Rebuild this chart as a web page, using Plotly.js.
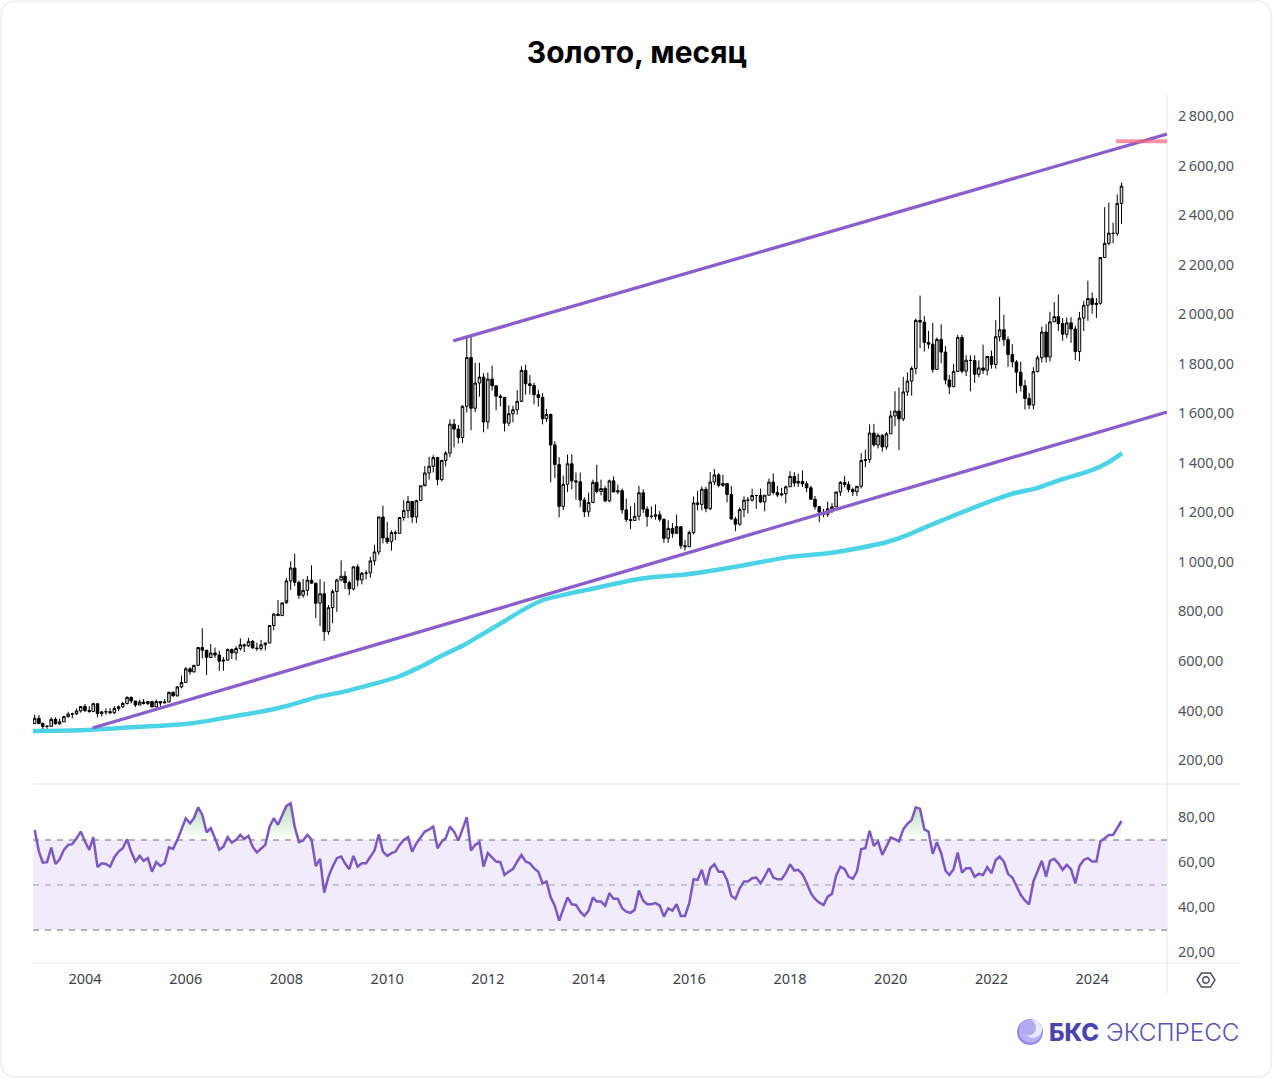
<!DOCTYPE html>
<html><head><meta charset="utf-8">
<script src="https://cdn.plot.ly/plotly-3.0.1.min.js"></script>
<style>html,body{margin:0;padding:0;background:#fff}#g{width:1273px;height:1079px}</style>
</head><body><div id="g"></div>
<script>
const W=1273,H=1079;
const opens=[347,368,347,335,336,364,346,354,375,385,386,398,
416,400,396,427,387,394,395,391,408,415,428,453,
438,422,434,428,436,414,436,430,434,473,459,495,
513,568,556,582,654,643,614,632,624,599,603,646,
632,650,665,661,679,652,650,665,672,743,789,783,
834,923,975,917,865,885,926,914,833,871,718,815,
880,927,942,916,891,980,927,954,955,1004,1040,1181,
1096,1081,1118,1115,1179,1207,1244,1181,1247,1307,1359,1386,
1421,1332,1409,1439,1556,1536,1502,1628,1825,1620,1722,1746,
1565,1738,1711,1669,1664,1560,1598,1614,1648,1773,1719,1712,
1675,1664,1578,1595,1472,1393,1224,1313,1396,1327,1323,1250,
1202,1240,1321,1284,1296,1246,1327,1282,1287,1210,1171,1167,
1184,1279,1213,1183,1184,1190,1172,1095,1135,1115,1142,1065,
1061,1118,1238,1232,1293,1215,1322,1351,1309,1316,1272,1173,
1152,1211,1249,1249,1268,1268,1242,1269,1322,1280,1270,1275,
1303,1345,1318,1325,1315,1299,1253,1223,1201,1192,1214,1222,
1282,1321,1313,1292,1283,1305,1409,1413,1520,1472,1511,1464,
1517,1589,1609,1577,1686,1730,1781,1975,1968,1886,1879,1777,
1898,1847,1734,1707,1769,1906,1770,1814,1813,1757,1783,1774,
1829,1797,1909,1937,1897,1837,1807,1766,1711,1660,1633,1768,
1824,1928,1827,1969,1990,1962,1919,1965,1940,1849,1984,2036,
2063,2039,2044,2229,2286,2327,2326,2447];
const closes=[368,347,335,336,364,346,354,375,385,386,398,416,
400,396,427,387,394,395,391,408,415,428,453,438,
422,434,428,436,414,436,430,434,473,459,495,513,
568,556,582,654,643,614,632,624,599,603,646,632,
650,665,661,679,652,650,665,672,743,789,783,834,
923,975,917,865,885,926,914,833,871,718,815,880,
927,942,916,891,980,927,954,955,1004,1040,1181,1096,
1081,1118,1115,1179,1207,1244,1181,1247,1307,1359,1386,1421,
1332,1409,1439,1556,1536,1502,1628,1825,1620,1722,1746,1565,
1738,1711,1669,1664,1560,1598,1614,1648,1773,1719,1712,1675,
1664,1578,1595,1472,1393,1224,1313,1396,1327,1323,1250,1202,
1240,1321,1284,1296,1246,1327,1282,1287,1210,1171,1167,1184,
1279,1213,1183,1184,1190,1172,1095,1135,1115,1142,1065,1061,
1118,1238,1232,1293,1215,1322,1351,1309,1316,1272,1173,1152,
1211,1249,1249,1268,1268,1242,1269,1322,1280,1270,1275,1303,
1345,1318,1325,1315,1299,1253,1223,1201,1192,1214,1222,1282,
1321,1313,1292,1283,1305,1409,1413,1520,1472,1511,1464,1517,
1589,1609,1577,1686,1730,1781,1975,1968,1886,1879,1777,1898,
1847,1734,1707,1769,1906,1770,1814,1813,1757,1783,1774,1829,
1797,1909,1937,1897,1837,1807,1766,1711,1660,1633,1768,1824,
1928,1827,1969,1990,1962,1919,1965,1940,1849,1984,2036,2063,
2039,2044,2229,2286,2327,2326,2447,2517];
const highs=[383,382,352,341,372,372,367,378,395,391,408,417,
426,417,431,428,398,408,410,418,420,434,456,456,
428,444,446,438,436,444,433,446,476,477,498,541,
575,575,584,656,732,640,668,654,641,616,650,650,
660,691,670,693,684,674,685,675,744,793,846,838,
934,1002,1033,924,931,943,986,915,930,920,826,889,
932,1006,962,924,982,990,959,966,1021,1069,1182,1227,
1162,1127,1127,1179,1249,1266,1203,1251,1307,1387,1424,1431,
1424,1413,1447,1575,1577,1553,1632,1912,1920,1804,1804,1762,
1764,1792,1696,1676,1665,1632,1630,1693,1790,1796,1754,1723,
1695,1681,1617,1599,1487,1423,1348,1433,1434,1361,1361,1261,
1280,1332,1392,1332,1306,1332,1345,1312,1296,1255,1225,1238,
1307,1293,1224,1224,1232,1205,1174,1168,1157,1191,1143,1088,
1126,1264,1287,1304,1303,1362,1375,1359,1352,1318,1306,1182,
1220,1264,1262,1295,1270,1296,1270,1337,1357,1306,1299,1308,
1366,1362,1356,1369,1326,1307,1266,1214,1214,1243,1237,1284,
1326,1346,1325,1300,1305,1439,1453,1555,1557,1519,1515,1525,
1611,1689,1704,1747,1765,1789,1982,2075,1992,1933,1965,1906,
1959,1871,1755,1799,1916,1917,1834,1834,1834,1814,1877,1832,
1853,1976,2070,1998,1910,1879,1815,1808,1735,1682,1786,1833,
1950,1960,2010,2049,2079,1984,1987,1988,1953,2009,2053,2135,
2088,2065,2222,2432,2450,2369,2484,2531];
const lows=[346,344,325,325,335,343,342,354,371,368,381,391,
393,390,393,372,376,382,385,385,397,411,424,428,
414,421,424,421,414,414,415,430,434,455,456,489,
511,544,553,581,610,543,614,612,560,560,602,607,
602,642,636,656,651,640,641,642,672,724,782,784,
846,887,902,850,855,863,911,773,741,681,706,752,
798,921,890,866,884,901,909,929,936,987,1028,1075,
1072,1045,1088,1114,1166,1177,1157,1157,1246,1316,1332,1361,
1309,1325,1385,1423,1462,1478,1480,1603,1532,1604,1667,1523,
1537,1691,1612,1628,1527,1548,1564,1594,1651,1675,1676,1636,
1626,1555,1565,1321,1339,1180,1208,1282,1293,1251,1221,1181,
1182,1237,1277,1268,1241,1241,1282,1273,1194,1161,1132,1167,
1167,1197,1142,1175,1170,1162,1077,1077,1097,1136,1052,1046,
1061,1111,1208,1208,1200,1208,1310,1301,1302,1241,1171,1124,
1146,1180,1195,1243,1214,1237,1204,1269,1271,1262,1264,1236,
1302,1303,1303,1302,1281,1250,1211,1160,1180,1182,1196,1221,
1266,1301,1281,1266,1265,1296,1382,1400,1465,1458,1445,1453,
1517,1548,1451,1568,1670,1671,1757,1863,1849,1860,1764,1776,
1802,1717,1677,1706,1768,1761,1750,1688,1722,1746,1758,1753,
1780,1780,1890,1872,1787,1785,1681,1688,1615,1617,1616,1765,
1805,1805,1809,1970,1932,1893,1903,1884,1815,1810,1932,1973,
2002,1985,2038,2229,2278,2287,2315,2364];
const rsi=[74.4,64.8,59.9,60.1,66.6,59.3,61.4,65.6,67.8,68.1,70.7,73.7,
69.3,65.6,71.2,57.9,59.6,59.3,58.1,62.3,64.8,66.3,70.3,64.8,
60.4,62.9,60.7,61.9,55.9,60.1,58.4,59.6,66.7,66,70,74.4,
79.6,77.4,79.6,84.5,81.1,73.4,75.2,70.7,65.6,67,71.2,68.8,
70,72.2,70.4,71.8,67,64.4,66.3,67.8,75.9,79.6,76.7,80.7,
85.1,86.3,75.9,69,69.7,72.2,70.3,58.4,61.6,46.6,53.7,58.1,
61.9,62.6,59.6,57,62.9,58.1,59.6,59.6,62.6,65.3,72.5,64.8,
62.9,64.1,64.7,67.8,70,71.2,64.8,68.5,71.2,73.7,74.7,75.9,
66.3,69.3,70.7,75.9,73.7,69.7,74.7,80.1,65.3,67.8,69,58.1,
64.1,62.3,60.4,60.1,54.4,55.9,57,60.4,63.3,60.4,59.6,57.4,
55.9,50.7,51.5,44.5,40.7,34.1,39.6,44.4,41.4,41.1,38.1,36.2,
38.6,44.5,42.6,42.6,40.8,46.3,43.8,43.8,39.6,38.1,37.6,38.9,
47.5,43,41.4,41.4,41.9,40.8,35.9,39.6,38.6,41.4,36.2,36.2,
41.9,52.5,52.2,56.7,50,57.4,59.2,55.9,55.9,52.2,45.1,43.8,
48.5,51.5,51.5,53,53.3,50.7,53.7,57.4,53.4,52.5,52.5,55.2,
59.2,56.4,56.7,54.7,51,46.3,43.8,42.1,41.1,44.8,46,54.1,
58.1,57,53.7,52.7,55.9,65.9,66.3,74,67.3,69.3,63.3,67.3,
71,70.3,69.3,74.7,77.1,78.9,84.5,83.8,74.7,73.7,63.8,69,
64.1,56.4,54.4,57,64.4,55.5,57.4,57.4,53.7,54.9,54.4,57.9,
55.2,61.1,62.6,60.4,54.9,53.3,49.6,45.6,43,41.4,51.5,55.9,
60.7,53.7,60.7,61.6,59.6,56.7,58.9,57,50.7,58.4,61.1,61.9,
60.4,60.4,69.3,70.7,72.2,72.2,75.2,78.4];
const maDates=['2002-12-20','2004-01-01','2005-01-01','2006-01-01','2007-01-01','2007-09-01','2008-01-25','2008-08-10','2009-02-15','2009-08-30','2010-03-15','2010-08-25','2011-02-10','2011-07-05','2011-11-05','2012-04-20','2012-09-12','2013-02-05','2013-08-15','2014-01-01','2015-01-01','2016-01-01','2017-01-01','2018-01-01','2018-10-20','2019-05-20','2019-12-05','2020-05-20','2020-07-30','2021-01-15','2021-07-30','2022-02-10','2022-07-05','2022-11-28','2023-06-01','2023-12-15','2024-04-20','2024-08-05'];
const maValues=[317,321,333,345,378,402,421,454,475,503,535,575,624,662,702,757,806,846,872,888,931,951,983,1020,1036,1056,1080,1112,1130,1169,1213,1254,1280,1298,1334,1367,1399,1439];
const upperDates=['2011-04-25','2025-06-27'];
const upperValues=[1892,2727];
const lowerDates=['2004-02-25','2025-06-27'];
const lowerValues=[329,1605];
const targetDates=['2024-06-22','2025-06-27'];
const targetValues=[2698,2698];
const priceTicks=[200,400,600,800,1000,1200,1400,1600,1800,2000,2200,2400,2600,2800];
const priceLabels=['200,00','400,00','600,00','800,00','1\u2009000,00','1\u2009200,00','1\u2009400,00','1\u2009600,00','1\u2009800,00','2\u2009000,00','2\u2009200,00','2\u2009400,00','2\u2009600,00','2\u2009800,00'];
const rsiTicks=[20,40,60,80];
const rsiLabels=['20,00','40,00','60,00','80,00'];
const months=[];
for(let y=2003,m=1;months.length<closes.length;){months.push(y+'-'+String(m).padStart(2,'0')+'-01');m++;if(m>12){m=1;y++;}}

const px=x=>x/W, py=y=>1-y/H;
const FONT='"Noto Sans", sans-serif';
const TXT='#50535e';
function hline(x0,x1,y,c){return {type:'line',xref:'paper',yref:'paper',x0:px(x0),x1:px(x1),y0:py(y),y1:py(y),line:{color:c,width:1},layer:'below'};}
function circ(cx,cy,r,fill){return {type:'circle',xref:'paper',yref:'paper',x0:px(cx-r),x1:px(cx+r),y0:py(cy-r),y1:py(cy+r),fillcolor:fill,line:{width:0},layer:'above'};}
function path(pts,close,c){let s='';pts.forEach((p,i)=>{s+=(i?'L':'M')+px(p[0]).toFixed(5)+','+py(p[1]).toFixed(5)+' ';});if(close)s+='Z';return {type:'path',xref:'paper',yref:'paper',path:s,line:{color:c,width:1.4},layer:'above'};}
function dashed(v,w){return {type:'line',xref:'paper',yref:'y2',x0:px(33),x1:px(1167),y0:v,y1:v,line:{color:'#9b9ba3',width:w,dash:'6px,6px'},layer:'below'};}
function card(l,t,r,b,q){const P=(x,y)=>px(x).toFixed(5)+','+py(y).toFixed(5);
 return 'M'+P(l+q,t)+' L'+P(r-q,t)+' Q'+P(r,t)+' '+P(r,t+q)+' L'+P(r,b-q)+' Q'+P(r,b)+' '+P(r-q,b)+' L'+P(l+q,b)+' Q'+P(l,b)+' '+P(l,b-q)+' L'+P(l,t+q)+' Q'+P(l,t)+' '+P(l+q,t)+' Z';}

const traces=[
 {type:'candlestick',x:months,open:opens,high:highs,low:lows,close:closes,xaxis:'x',yaxis:'y',
  increasing:{line:{color:'#000',width:1},fillcolor:'#d8d8d8'},decreasing:{line:{color:'#000',width:1},fillcolor:'#000'},whiskerwidth:0,hoverinfo:'skip'},
 {type:'scatter',mode:'lines',x:maDates,y:maValues,xaxis:'x',yaxis:'y',line:{color:'#4dd3e6',width:4.5,shape:'spline',smoothing:0.8},hoverinfo:'skip'},
 {type:'scatter',mode:'lines',x:upperDates,y:upperValues,xaxis:'x',yaxis:'y',line:{color:'#8a5ecc',width:3.3},hoverinfo:'skip'},
 {type:'scatter',mode:'lines',x:lowerDates,y:lowerValues,xaxis:'x',yaxis:'y',line:{color:'#8a5ecc',width:3.3},hoverinfo:'skip'},
 {type:'scatter',mode:'lines',x:targetDates,y:targetValues,xaxis:'x',yaxis:'y',line:{color:'rgba(240,100,125,0.7)',width:4},hoverinfo:'skip'},
 {type:'scatter',mode:'lines',x:months,y:months.map(()=>70),xaxis:'x',yaxis:'y2',line:{width:0},hoverinfo:'skip'},
 {type:'scatter',mode:'lines',x:months,y:rsi.map(v=>Math.max(v,70)),xaxis:'x',yaxis:'y2',line:{width:0},fill:'tonexty',
  fillgradient:{type:'vertical',start:70,stop:88,colorscale:[[0,'rgba(76,175,80,0)'],[1,'rgba(76,175,80,0.45)']]},hoverinfo:'skip'},
 {type:'scatter',mode:'lines',x:months,y:rsi,xaxis:'x',yaxis:'y2',line:{color:'#7e57c2',width:2.5},hoverinfo:'skip'}
];
const shapes=[
 {type:'path',xref:'paper',yref:'paper',path:card(1,1,1271.5,1077,16),line:{color:'#eeeef1',width:1.5},fillcolor:'rgba(0,0,0,0)',layer:'below'},
 hline(33,1240,784,'#e2e5f2'),hline(33,1240,963,'#e7e7ea'),
 {type:'line',xref:'paper',yref:'paper',x0:px(1167),x1:px(1167),y0:py(95),y1:py(993),line:{color:'#e6e6ea',width:1},layer:'below'},
 {type:'rect',xref:'paper',yref:'y2',x0:px(33),x1:px(1167),y0:30,y1:70,fillcolor:'#f0ecf9',line:{width:0},layer:'below'},
 dashed(70,1.5),dashed(50,1),dashed(30,1.5),
 path([[1197,980],[1201.5,973],[1210.5,973],[1215,980],[1210.5,987],[1201.5,987]],true,'#4a4a55'),
 {type:'circle',xref:'paper',yref:'paper',x0:px(1202.8),x1:px(1209.2),y0:py(983.2),y1:py(976.8),line:{color:'#4a4a55',width:1.4},layer:'above'},
 circ(1030,1032,13,'#9489e6'),circ(1030.5,1031,11.5,'#b9b1f3'),circ(1033,1029,9,'#ebe9fc'),circ(1028,1027.5,8,'#b3aaf0')
];
const annotations=[
 {xref:'paper',yref:'paper',x:px(1047),y:py(1032),xanchor:'left',yanchor:'middle',showarrow:false,text:'БКС',font:{family:'Inter, sans-serif',size:24,weight:800,color:'#4c43ac'}},
 {xref:'paper',yref:'paper',x:px(1104),y:py(1032),xanchor:'left',yanchor:'middle',showarrow:false,text:'ЭКСПРЕСС',font:{family:'Inter, sans-serif',size:24.3,weight:300,color:'#5a52b5'}}
];
const layout={width:W,height:H,margin:{l:0,r:0,t:0,b:0},paper_bgcolor:'#fff',plot_bgcolor:'rgba(0,0,0,0)',showlegend:false,hovermode:false,
 title:{text:'Золото, месяц',x:637/W,xanchor:'center',y:py(52),yanchor:'middle',font:{family:'Inter, sans-serif',size:30,weight:700,color:'#000'}},
 xaxis:{domain:[px(33),px(1167)],anchor:'y2',type:'date',range:['2002-12-20','2025-06-27'],tick0:'2004-01-01',dtick:'M24',tickformat:'%Y',ticklen:0,showgrid:false,zeroline:false,showline:false,rangeslider:{visible:false},ticklabelstandoff:5,tickfont:{family:FONT,size:14.5,color:'#3c3f4a'}},
 yaxis:{domain:[py(784),py(95)],anchor:'x',side:'right',range:[103,2885],tickvals:priceTicks,ticktext:priceLabels,ticklen:0,showgrid:false,zeroline:false,showline:false,ticklabelstandoff:10,tickfont:{family:FONT,size:14.5,color:TXT}},
 yaxis2:{domain:[py(963),py(785)],anchor:'x',side:'right',range:[15.3,94.4],tickvals:rsiTicks,ticktext:rsiLabels,ticklen:0,showgrid:false,zeroline:false,showline:false,ticklabelstandoff:10,tickfont:{family:FONT,size:14.5,color:TXT}},
 shapes:shapes,annotations:annotations,boxgap:0.06
};
Plotly.newPlot('g',traces,layout,{displayModeBar:false,staticPlot:true});
</script></body></html>
